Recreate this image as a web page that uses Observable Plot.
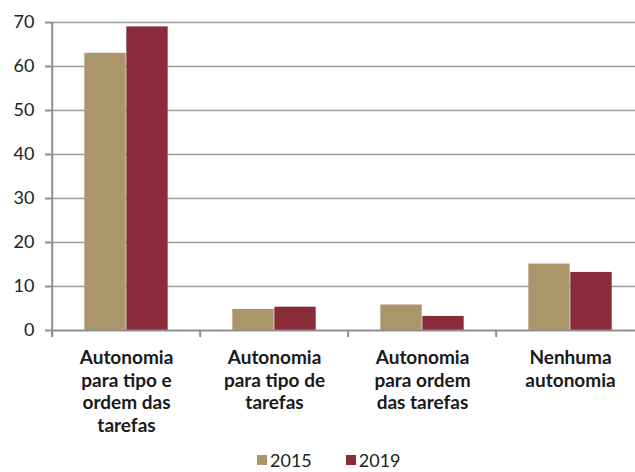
<!DOCTYPE html>
<html>
<head>
<meta charset="utf-8">
<script src="https://cdn.jsdelivr.net/npm/d3@7"></script>
<script src="https://cdn.jsdelivr.net/npm/@observablehq/plot@0.6"></script>
<style>
  html, body { margin: 0; padding: 0; background: white; }
  #wrap { position: relative; width: 635px; height: 472px; font-family: Lato, "Open Sans", sans-serif; }
  #legend { position: absolute; top: 450px; left: 257px; height: 20px; line-height: 20px; display: flex; align-items: center; font-size: 18px; color: #222; }
  #legend .item { display: flex; align-items: center; margin-right: 34px; }
  #legend .sw { width: 10px; height: 10px; margin-right: 3px; }
</style>
</head>
<body>
<div id="wrap"><div id="chart"></div><div id="legend"></div></div>
<script>
const categories = ["tipo_ordem", "tipo", "ordem", "nenhuma"];
const categoryLabels = [
  "Autonomia\npara tipo e\nordem das\ntarefas",
  "Autonomia\npara tipo de\ntarefas",
  "Autonomia\npara ordem\ndas tarefas",
  "Nenhuma\nautonomia"
];
const years = ["2015", "2019"];
const values2015 = [63, 4.8, 5.8, 15.1];
const values2019 = [69, 5.3, 3.2, 13.2];
const yTicks = [0, 10, 20, 30, 40, 50, 60, 70];
const colors = ["#ab966b", "#8a2b3a"];

const data = [];
categories.forEach((c, i) => {
  data.push({category: c, year: years[0], value: values2015[i]});
  data.push({category: c, year: years[1], value: values2019[i]});
});

const xRange = [51, 645.6];
const step = (xRange[1] - xRange[0]) / categories.length;
const barW = step * 0.2825;
const outer = (step - 2 * barW) / 2;
const labelOf = c => categoryLabels[categories.indexOf(c)];
const axisColor = "#8f8f8f";
const gridColor = "#9b9b9b";

const chart = Plot.plot({
  width: 635,
  height: 440,
  marginTop: 22,
  marginBottom: 110,
  marginLeft: 51,
  marginRight: 0,
  style: {fontFamily: "Lato, 'Open Sans', sans-serif", color: "#222", background: "white"},
  x: {type: "band", domain: categories, range: xRange, padding: 0},
  y: {domain: [0, 70]},
  marks: [
    Plot.ruleY(yTicks.filter(d => d > 0), {stroke: gridColor, strokeWidth: 1.5}),
    Plot.barY(data.filter(d => d.year === years[0]), {
      x: "category", y: "value", fill: colors[0],
      insetLeft: outer, insetRight: outer + barW
    }),
    Plot.barY(data.filter(d => d.year === years[1]), {
      x: "category", y: "value", fill: colors[1],
      insetLeft: outer + barW, insetRight: outer
    }),
    Plot.ruleY([0], {stroke: axisColor, strokeWidth: 2}),
    Plot.ruleX([categories[0]], {dx: -step / 2, y1: 70, y2: 0, insetBottom: -7, stroke: axisColor, strokeWidth: 2}),
    Plot.ruleX(categories, {dx: -step / 2, y1: 0, y2: 0, insetBottom: -7, stroke: axisColor, strokeWidth: 2}),
    Plot.axisY({
      ticks: yTicks, tickSize: 6, tickPadding: 11, fontSize: 18,
      stroke: axisColor, strokeWidth: 2, fill: "#222", label: null
    }),
    Plot.axisX({
      tickSize: 0, tickPadding: 18, fontSize: 19, fontWeight: "bold",
      lineHeight: 1.18, tickFormat: labelOf, fill: "#1a1a1a", label: null
    })
  ]
});
document.getElementById("chart").appendChild(chart);

const legend = document.getElementById("legend");
years.forEach((y, i) => {
  const item = document.createElement("div");
  item.className = "item";
  const sw = document.createElement("span");
  sw.className = "sw";
  sw.style.background = colors[i];
  const t = document.createElement("span");
  t.textContent = y;
  item.appendChild(sw);
  item.appendChild(t);
  legend.appendChild(item);
});
</script>
</body>
</html>
